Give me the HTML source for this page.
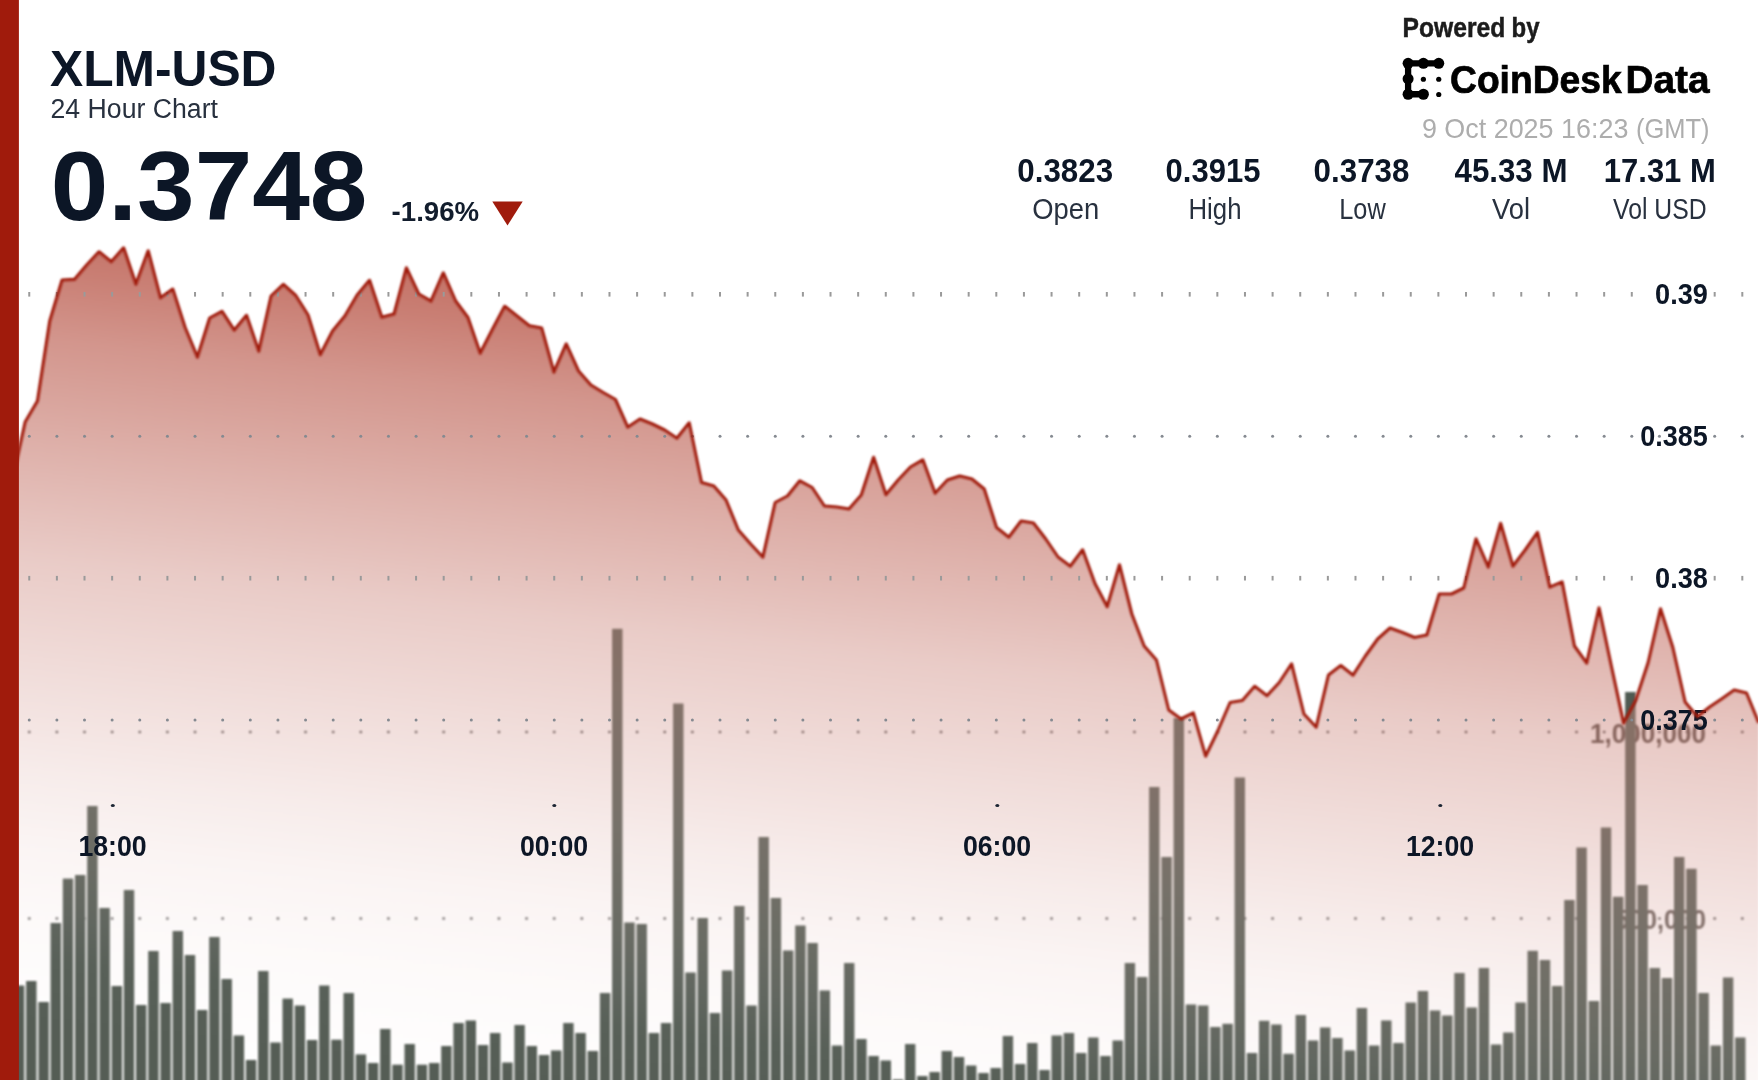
<!DOCTYPE html>
<html><head><meta charset="utf-8"><title>XLM-USD 24 Hour Chart</title>
<style>html,body{margin:0;padding:0;background:#fff;overflow:hidden}svg{display:block}</style></head>
<body>
<svg width="1758" height="1080" viewBox="0 0 1758 1080" font-family="Liberation Sans, sans-serif">
<defs>
<linearGradient id="ag" gradientUnits="userSpaceOnUse" x1="290" y1="250" x2="195.80" y2="1069.17">
<stop offset="0.0000" stop-color="#a52816" stop-opacity="0.66"/><stop offset="0.0602" stop-color="#a52816" stop-opacity="0.595"/><stop offset="0.1410" stop-color="#a52816" stop-opacity="0.49"/><stop offset="0.2771" stop-color="#a52816" stop-opacity="0.36"/><stop offset="0.4084" stop-color="#a52816" stop-opacity="0.24"/><stop offset="0.5434" stop-color="#a52816" stop-opacity="0.158"/><stop offset="0.6639" stop-color="#a52816" stop-opacity="0.088"/><stop offset="0.7470" stop-color="#a52816" stop-opacity="0.05"/><stop offset="0.8373" stop-color="#a52816" stop-opacity="0.025"/><stop offset="1.0000" stop-color="#a52816" stop-opacity="0.0"/>
</linearGradient>
<linearGradient id="bg" gradientUnits="userSpaceOnUse" x1="290" y1="600" x2="235.52" y2="1073.73">
<stop offset="0.0000" stop-color="rgb(134, 112, 102)"/><stop offset="0.1042" stop-color="rgb(132, 114, 105)"/><stop offset="0.3958" stop-color="rgb(118, 113, 105)"/><stop offset="0.6042" stop-color="rgb(106, 108, 100)"/><stop offset="0.7083" stop-color="rgb(98, 103, 96)"/><stop offset="0.8125" stop-color="rgb(88, 96, 88)"/><stop offset="0.9646" stop-color="rgb(85, 93, 85)"/><stop offset="1.0000" stop-color="rgb(85, 93, 85)"/>
</linearGradient>
<clipPath id="above"><path d="M12.9,478.0 L25.2,422.0 L37.5,401.0 L49.8,321.0 L62.1,280.0 L74.4,279.4 L86.7,265.0 L99.0,251.8 L111.3,261.8 L123.6,247.8 L135.9,284.2 L148.2,250.8 L160.5,297.8 L172.8,289.1 L185.1,327.5 L197.4,357.2 L209.7,318.0 L222.0,311.3 L234.2,330.2 L246.5,315.3 L258.8,351.2 L271.1,296.0 L283.4,284.3 L295.7,295.5 L308.0,315.0 L320.3,354.7 L332.6,331.0 L344.9,316.0 L357.2,295.0 L369.5,280.3 L381.8,317.2 L394.1,314.0 L406.4,267.8 L418.7,294.0 L431.0,301.2 L443.3,272.8 L455.6,301.0 L467.9,317.5 L480.2,353.2 L492.4,329.5 L504.7,306.3 L517.0,316.0 L529.3,325.8 L541.6,328.0 L553.9,372.2 L566.2,343.8 L578.5,371.0 L590.8,385.0 L603.1,392.5 L615.4,399.5 L627.7,427.2 L640.0,419.0 L652.3,424.0 L664.6,430.0 L676.9,438.2 L689.2,422.8 L701.5,482.5 L713.8,486.0 L726.0,500.0 L738.3,530.0 L750.6,544.0 L762.9,557.2 L775.2,502.5 L787.5,496.0 L799.8,480.8 L812.1,487.5 L824.4,506.0 L836.7,507.0 L849.0,509.0 L861.3,495.0 L873.6,457.3 L885.9,494.7 L898.2,480.0 L910.5,467.0 L922.8,459.8 L935.1,493.2 L947.4,480.0 L959.7,476.0 L971.9,479.0 L984.2,489.0 L996.5,527.5 L1008.8,537.2 L1021.1,521.0 L1033.4,523.0 L1045.7,539.0 L1058.0,557.0 L1070.3,566.2 L1082.6,549.8 L1094.9,583.5 L1107.2,606.7 L1119.5,564.8 L1131.8,614.0 L1144.1,646.0 L1156.4,660.0 L1168.7,710.0 L1181.0,719.0 L1193.3,712.8 L1205.6,756.2 L1217.8,731.0 L1230.1,702.5 L1242.4,700.5 L1254.7,686.3 L1267.0,695.7 L1279.3,682.5 L1291.6,663.8 L1303.9,714.0 L1316.2,727.2 L1328.5,675.0 L1340.8,665.5 L1353.1,675.2 L1365.4,656.0 L1377.7,639.0 L1390.0,628.0 L1402.3,632.5 L1414.6,637.5 L1426.9,635.0 L1439.2,594.0 L1451.5,594.0 L1463.8,588.0 L1476.0,538.8 L1488.3,567.2 L1500.6,523.3 L1512.9,566.2 L1525.2,550.0 L1537.5,532.3 L1549.8,587.2 L1562.1,581.8 L1574.4,646.0 L1586.7,663.2 L1599.0,607.8 L1611.3,666.0 L1623.6,723.2 L1635.9,700.0 L1648.2,662.5 L1660.5,608.8 L1672.8,647.5 L1685.1,702.0 L1697.4,716.7 L1709.6,707.0 L1721.9,698.7 L1734.2,690.0 L1746.5,693.0 L1758.8,723.0 L1758.8,0 L12.9,0 Z"/></clipPath>
<clipPath id="below"><path d="M12.9,478.0 L25.2,422.0 L37.5,401.0 L49.8,321.0 L62.1,280.0 L74.4,279.4 L86.7,265.0 L99.0,251.8 L111.3,261.8 L123.6,247.8 L135.9,284.2 L148.2,250.8 L160.5,297.8 L172.8,289.1 L185.1,327.5 L197.4,357.2 L209.7,318.0 L222.0,311.3 L234.2,330.2 L246.5,315.3 L258.8,351.2 L271.1,296.0 L283.4,284.3 L295.7,295.5 L308.0,315.0 L320.3,354.7 L332.6,331.0 L344.9,316.0 L357.2,295.0 L369.5,280.3 L381.8,317.2 L394.1,314.0 L406.4,267.8 L418.7,294.0 L431.0,301.2 L443.3,272.8 L455.6,301.0 L467.9,317.5 L480.2,353.2 L492.4,329.5 L504.7,306.3 L517.0,316.0 L529.3,325.8 L541.6,328.0 L553.9,372.2 L566.2,343.8 L578.5,371.0 L590.8,385.0 L603.1,392.5 L615.4,399.5 L627.7,427.2 L640.0,419.0 L652.3,424.0 L664.6,430.0 L676.9,438.2 L689.2,422.8 L701.5,482.5 L713.8,486.0 L726.0,500.0 L738.3,530.0 L750.6,544.0 L762.9,557.2 L775.2,502.5 L787.5,496.0 L799.8,480.8 L812.1,487.5 L824.4,506.0 L836.7,507.0 L849.0,509.0 L861.3,495.0 L873.6,457.3 L885.9,494.7 L898.2,480.0 L910.5,467.0 L922.8,459.8 L935.1,493.2 L947.4,480.0 L959.7,476.0 L971.9,479.0 L984.2,489.0 L996.5,527.5 L1008.8,537.2 L1021.1,521.0 L1033.4,523.0 L1045.7,539.0 L1058.0,557.0 L1070.3,566.2 L1082.6,549.8 L1094.9,583.5 L1107.2,606.7 L1119.5,564.8 L1131.8,614.0 L1144.1,646.0 L1156.4,660.0 L1168.7,710.0 L1181.0,719.0 L1193.3,712.8 L1205.6,756.2 L1217.8,731.0 L1230.1,702.5 L1242.4,700.5 L1254.7,686.3 L1267.0,695.7 L1279.3,682.5 L1291.6,663.8 L1303.9,714.0 L1316.2,727.2 L1328.5,675.0 L1340.8,665.5 L1353.1,675.2 L1365.4,656.0 L1377.7,639.0 L1390.0,628.0 L1402.3,632.5 L1414.6,637.5 L1426.9,635.0 L1439.2,594.0 L1451.5,594.0 L1463.8,588.0 L1476.0,538.8 L1488.3,567.2 L1500.6,523.3 L1512.9,566.2 L1525.2,550.0 L1537.5,532.3 L1549.8,587.2 L1562.1,581.8 L1574.4,646.0 L1586.7,663.2 L1599.0,607.8 L1611.3,666.0 L1623.6,723.2 L1635.9,700.0 L1648.2,662.5 L1660.5,608.8 L1672.8,647.5 L1685.1,702.0 L1697.4,716.7 L1709.6,707.0 L1721.9,698.7 L1734.2,690.0 L1746.5,693.0 L1758.8,723.0 L1758.8,1120 L12.9,1120 Z"/></clipPath>
<filter id="bl" color-interpolation-filters="sRGB" filterUnits="userSpaceOnUse" x="-40" y="-40" width="1840" height="1160"><feGaussianBlur stdDeviation="0.85"/></filter>
<filter id="tb" color-interpolation-filters="sRGB" filterUnits="userSpaceOnUse" x="-40" y="-40" width="1840" height="1160"><feGaussianBlur stdDeviation="0.65"/></filter>
</defs>
<g filter="url(#bl)">
<rect x="-40" y="-40" width="1840" height="1160" fill="#fff"/>
<g clip-path="url(#below)"><g fill="#6e6e6e"><circle cx="29.25" cy="732" r="1.35"/><circle cx="56.88" cy="732" r="1.35"/><circle cx="84.51" cy="732" r="1.35"/><circle cx="112.14" cy="732" r="1.35"/><circle cx="139.77" cy="732" r="1.35"/><circle cx="167.40" cy="732" r="1.35"/><circle cx="195.03" cy="732" r="1.35"/><circle cx="222.66" cy="732" r="1.35"/><circle cx="250.29" cy="732" r="1.35"/><circle cx="277.92" cy="732" r="1.35"/><circle cx="305.55" cy="732" r="1.35"/><circle cx="333.18" cy="732" r="1.35"/><circle cx="360.81" cy="732" r="1.35"/><circle cx="388.44" cy="732" r="1.35"/><circle cx="416.07" cy="732" r="1.35"/><circle cx="443.70" cy="732" r="1.35"/><circle cx="471.33" cy="732" r="1.35"/><circle cx="498.96" cy="732" r="1.35"/><circle cx="526.59" cy="732" r="1.35"/><circle cx="554.22" cy="732" r="1.35"/><circle cx="581.85" cy="732" r="1.35"/><circle cx="609.48" cy="732" r="1.35"/><circle cx="637.11" cy="732" r="1.35"/><circle cx="664.74" cy="732" r="1.35"/><circle cx="692.37" cy="732" r="1.35"/><circle cx="720.00" cy="732" r="1.35"/><circle cx="747.63" cy="732" r="1.35"/><circle cx="775.26" cy="732" r="1.35"/><circle cx="802.89" cy="732" r="1.35"/><circle cx="830.52" cy="732" r="1.35"/><circle cx="858.15" cy="732" r="1.35"/><circle cx="885.78" cy="732" r="1.35"/><circle cx="913.41" cy="732" r="1.35"/><circle cx="941.04" cy="732" r="1.35"/><circle cx="968.67" cy="732" r="1.35"/><circle cx="996.30" cy="732" r="1.35"/><circle cx="1023.93" cy="732" r="1.35"/><circle cx="1051.56" cy="732" r="1.35"/><circle cx="1079.19" cy="732" r="1.35"/><circle cx="1106.82" cy="732" r="1.35"/><circle cx="1134.45" cy="732" r="1.35"/><circle cx="1162.08" cy="732" r="1.35"/><circle cx="1189.71" cy="732" r="1.35"/><circle cx="1217.34" cy="732" r="1.35"/><circle cx="1244.97" cy="732" r="1.35"/><circle cx="1272.60" cy="732" r="1.35"/><circle cx="1300.23" cy="732" r="1.35"/><circle cx="1327.86" cy="732" r="1.35"/><circle cx="1355.49" cy="732" r="1.35"/><circle cx="1383.12" cy="732" r="1.35"/><circle cx="1410.75" cy="732" r="1.35"/><circle cx="1438.38" cy="732" r="1.35"/><circle cx="1466.01" cy="732" r="1.35"/><circle cx="1493.64" cy="732" r="1.35"/><circle cx="1521.27" cy="732" r="1.35"/><circle cx="1548.90" cy="732" r="1.35"/><circle cx="1576.53" cy="732" r="1.35"/><circle cx="1604.16" cy="732" r="1.35"/><circle cx="1631.79" cy="732" r="1.35"/><circle cx="1659.42" cy="732" r="1.35"/><circle cx="1687.05" cy="732" r="1.35"/><circle cx="1714.68" cy="732" r="1.35"/><circle cx="1742.31" cy="732" r="1.35"/></g></g>
<g fill="#6e6e6e"><circle cx="29.25" cy="918.5" r="1.35"/><circle cx="56.88" cy="918.5" r="1.35"/><circle cx="84.51" cy="918.5" r="1.35"/><circle cx="112.14" cy="918.5" r="1.35"/><circle cx="139.77" cy="918.5" r="1.35"/><circle cx="167.40" cy="918.5" r="1.35"/><circle cx="195.03" cy="918.5" r="1.35"/><circle cx="222.66" cy="918.5" r="1.35"/><circle cx="250.29" cy="918.5" r="1.35"/><circle cx="277.92" cy="918.5" r="1.35"/><circle cx="305.55" cy="918.5" r="1.35"/><circle cx="333.18" cy="918.5" r="1.35"/><circle cx="360.81" cy="918.5" r="1.35"/><circle cx="388.44" cy="918.5" r="1.35"/><circle cx="416.07" cy="918.5" r="1.35"/><circle cx="443.70" cy="918.5" r="1.35"/><circle cx="471.33" cy="918.5" r="1.35"/><circle cx="498.96" cy="918.5" r="1.35"/><circle cx="526.59" cy="918.5" r="1.35"/><circle cx="554.22" cy="918.5" r="1.35"/><circle cx="581.85" cy="918.5" r="1.35"/><circle cx="609.48" cy="918.5" r="1.35"/><circle cx="637.11" cy="918.5" r="1.35"/><circle cx="664.74" cy="918.5" r="1.35"/><circle cx="692.37" cy="918.5" r="1.35"/><circle cx="720.00" cy="918.5" r="1.35"/><circle cx="747.63" cy="918.5" r="1.35"/><circle cx="775.26" cy="918.5" r="1.35"/><circle cx="802.89" cy="918.5" r="1.35"/><circle cx="830.52" cy="918.5" r="1.35"/><circle cx="858.15" cy="918.5" r="1.35"/><circle cx="885.78" cy="918.5" r="1.35"/><circle cx="913.41" cy="918.5" r="1.35"/><circle cx="941.04" cy="918.5" r="1.35"/><circle cx="968.67" cy="918.5" r="1.35"/><circle cx="996.30" cy="918.5" r="1.35"/><circle cx="1023.93" cy="918.5" r="1.35"/><circle cx="1051.56" cy="918.5" r="1.35"/><circle cx="1079.19" cy="918.5" r="1.35"/><circle cx="1106.82" cy="918.5" r="1.35"/><circle cx="1134.45" cy="918.5" r="1.35"/><circle cx="1162.08" cy="918.5" r="1.35"/><circle cx="1189.71" cy="918.5" r="1.35"/><circle cx="1217.34" cy="918.5" r="1.35"/><circle cx="1244.97" cy="918.5" r="1.35"/><circle cx="1272.60" cy="918.5" r="1.35"/><circle cx="1300.23" cy="918.5" r="1.35"/><circle cx="1327.86" cy="918.5" r="1.35"/><circle cx="1355.49" cy="918.5" r="1.35"/><circle cx="1383.12" cy="918.5" r="1.35"/><circle cx="1410.75" cy="918.5" r="1.35"/><circle cx="1438.38" cy="918.5" r="1.35"/><circle cx="1466.01" cy="918.5" r="1.35"/><circle cx="1493.64" cy="918.5" r="1.35"/><circle cx="1521.27" cy="918.5" r="1.35"/><circle cx="1548.90" cy="918.5" r="1.35"/><circle cx="1576.53" cy="918.5" r="1.35"/><circle cx="1604.16" cy="918.5" r="1.35"/><circle cx="1631.79" cy="918.5" r="1.35"/><circle cx="1659.42" cy="918.5" r="1.35"/><circle cx="1687.05" cy="918.5" r="1.35"/><circle cx="1714.68" cy="918.5" r="1.35"/><circle cx="1742.31" cy="918.5" r="1.35"/></g>
<text x="1706" y="743" font-size="27" font-weight="bold" fill="#7d7874" text-anchor="end" textLength="116" lengthAdjust="spacingAndGlyphs" >1,000,000</text>
<text x="1706" y="928.5" font-size="27" font-weight="bold" fill="#7d7874" text-anchor="end" textLength="91" lengthAdjust="spacingAndGlyphs" >500,000</text>
<path d="M12.9,478.0 L25.2,422.0 L37.5,401.0 L49.8,321.0 L62.1,280.0 L74.4,279.4 L86.7,265.0 L99.0,251.8 L111.3,261.8 L123.6,247.8 L135.9,284.2 L148.2,250.8 L160.5,297.8 L172.8,289.1 L185.1,327.5 L197.4,357.2 L209.7,318.0 L222.0,311.3 L234.2,330.2 L246.5,315.3 L258.8,351.2 L271.1,296.0 L283.4,284.3 L295.7,295.5 L308.0,315.0 L320.3,354.7 L332.6,331.0 L344.9,316.0 L357.2,295.0 L369.5,280.3 L381.8,317.2 L394.1,314.0 L406.4,267.8 L418.7,294.0 L431.0,301.2 L443.3,272.8 L455.6,301.0 L467.9,317.5 L480.2,353.2 L492.4,329.5 L504.7,306.3 L517.0,316.0 L529.3,325.8 L541.6,328.0 L553.9,372.2 L566.2,343.8 L578.5,371.0 L590.8,385.0 L603.1,392.5 L615.4,399.5 L627.7,427.2 L640.0,419.0 L652.3,424.0 L664.6,430.0 L676.9,438.2 L689.2,422.8 L701.5,482.5 L713.8,486.0 L726.0,500.0 L738.3,530.0 L750.6,544.0 L762.9,557.2 L775.2,502.5 L787.5,496.0 L799.8,480.8 L812.1,487.5 L824.4,506.0 L836.7,507.0 L849.0,509.0 L861.3,495.0 L873.6,457.3 L885.9,494.7 L898.2,480.0 L910.5,467.0 L922.8,459.8 L935.1,493.2 L947.4,480.0 L959.7,476.0 L971.9,479.0 L984.2,489.0 L996.5,527.5 L1008.8,537.2 L1021.1,521.0 L1033.4,523.0 L1045.7,539.0 L1058.0,557.0 L1070.3,566.2 L1082.6,549.8 L1094.9,583.5 L1107.2,606.7 L1119.5,564.8 L1131.8,614.0 L1144.1,646.0 L1156.4,660.0 L1168.7,710.0 L1181.0,719.0 L1193.3,712.8 L1205.6,756.2 L1217.8,731.0 L1230.1,702.5 L1242.4,700.5 L1254.7,686.3 L1267.0,695.7 L1279.3,682.5 L1291.6,663.8 L1303.9,714.0 L1316.2,727.2 L1328.5,675.0 L1340.8,665.5 L1353.1,675.2 L1365.4,656.0 L1377.7,639.0 L1390.0,628.0 L1402.3,632.5 L1414.6,637.5 L1426.9,635.0 L1439.2,594.0 L1451.5,594.0 L1463.8,588.0 L1476.0,538.8 L1488.3,567.2 L1500.6,523.3 L1512.9,566.2 L1525.2,550.0 L1537.5,532.3 L1549.8,587.2 L1562.1,581.8 L1574.4,646.0 L1586.7,663.2 L1599.0,607.8 L1611.3,666.0 L1623.6,723.2 L1635.9,700.0 L1648.2,662.5 L1660.5,608.8 L1672.8,647.5 L1685.1,702.0 L1697.4,716.7 L1709.6,707.0 L1721.9,698.7 L1734.2,690.0 L1746.5,693.0 L1758.8,723.0 L1758.8,1120 L12.9,1120 Z" fill="url(#ag)"/>
<g fill="url(#bg)"><rect x="1.7" y="1000.0" width="10.4" height="120.0"/><rect x="13.9" y="985.5" width="10.4" height="134.5"/><rect x="26.1" y="981.0" width="10.4" height="139.0"/><rect x="38.4" y="1002.0" width="10.4" height="118.0"/><rect x="50.6" y="923.0" width="10.4" height="197.0"/><rect x="62.8" y="878.6" width="10.4" height="241.4"/><rect x="75.0" y="875.0" width="10.4" height="245.0"/><rect x="87.2" y="806.0" width="10.4" height="314.0"/><rect x="99.4" y="908.0" width="10.4" height="212.0"/><rect x="111.6" y="986.0" width="10.4" height="134.0"/><rect x="123.8" y="890.0" width="10.4" height="230.0"/><rect x="136.0" y="1005.0" width="10.4" height="115.0"/><rect x="148.2" y="951.0" width="10.4" height="169.0"/><rect x="160.4" y="1003.0" width="10.4" height="117.0"/><rect x="172.6" y="931.0" width="10.4" height="189.0"/><rect x="184.8" y="955.0" width="10.4" height="165.0"/><rect x="197.0" y="1010.0" width="10.4" height="110.0"/><rect x="209.2" y="937.0" width="10.4" height="183.0"/><rect x="221.5" y="979.0" width="10.4" height="141.0"/><rect x="233.7" y="1035.5" width="10.4" height="84.5"/><rect x="245.9" y="1060.0" width="10.4" height="60.0"/><rect x="258.1" y="971.0" width="10.4" height="149.0"/><rect x="270.3" y="1042.5" width="10.4" height="77.5"/><rect x="282.5" y="998.6" width="10.4" height="121.4"/><rect x="294.7" y="1005.5" width="10.4" height="114.5"/><rect x="306.9" y="1040.0" width="10.4" height="80.0"/><rect x="319.1" y="985.5" width="10.4" height="134.5"/><rect x="331.3" y="1039.7" width="10.4" height="80.3"/><rect x="343.5" y="993.0" width="10.4" height="127.0"/><rect x="355.7" y="1054.4" width="10.4" height="65.6"/><rect x="367.9" y="1063.0" width="10.4" height="57.0"/><rect x="380.1" y="1029.0" width="10.4" height="91.0"/><rect x="392.3" y="1064.7" width="10.4" height="55.3"/><rect x="404.5" y="1044.0" width="10.4" height="76.0"/><rect x="416.8" y="1064.7" width="10.4" height="55.3"/><rect x="429.0" y="1063.0" width="10.4" height="57.0"/><rect x="441.2" y="1046.0" width="10.4" height="74.0"/><rect x="453.4" y="1023.0" width="10.4" height="97.0"/><rect x="465.6" y="1020.5" width="10.4" height="99.5"/><rect x="477.8" y="1045.0" width="10.4" height="75.0"/><rect x="490.0" y="1033.0" width="10.4" height="87.0"/><rect x="502.2" y="1062.5" width="10.4" height="57.5"/><rect x="514.4" y="1025.0" width="10.4" height="95.0"/><rect x="526.6" y="1046.0" width="10.4" height="74.0"/><rect x="538.8" y="1055.0" width="10.4" height="65.0"/><rect x="551.0" y="1050.5" width="10.4" height="69.5"/><rect x="563.2" y="1023.0" width="10.4" height="97.0"/><rect x="575.4" y="1033.0" width="10.4" height="87.0"/><rect x="587.6" y="1051.0" width="10.4" height="69.0"/><rect x="599.9" y="993.0" width="10.4" height="127.0"/><rect x="612.1" y="628.8" width="10.4" height="491.2"/><rect x="624.3" y="922.5" width="10.4" height="197.5"/><rect x="636.5" y="924.0" width="10.4" height="196.0"/><rect x="648.7" y="1033.0" width="10.4" height="87.0"/><rect x="660.9" y="1023.0" width="10.4" height="97.0"/><rect x="673.1" y="703.5" width="10.4" height="416.5"/><rect x="685.3" y="972.5" width="10.4" height="147.5"/><rect x="697.5" y="918.0" width="10.4" height="202.0"/><rect x="709.7" y="1013.0" width="10.4" height="107.0"/><rect x="721.9" y="970.5" width="10.4" height="149.5"/><rect x="734.1" y="906.0" width="10.4" height="214.0"/><rect x="746.3" y="1005.5" width="10.4" height="114.5"/><rect x="758.5" y="837.0" width="10.4" height="283.0"/><rect x="770.7" y="898.0" width="10.4" height="222.0"/><rect x="783.0" y="950.5" width="10.4" height="169.5"/><rect x="795.2" y="925.5" width="10.4" height="194.5"/><rect x="807.4" y="943.0" width="10.4" height="177.0"/><rect x="819.6" y="990.5" width="10.4" height="129.5"/><rect x="831.8" y="1045.5" width="10.4" height="74.5"/><rect x="844.0" y="963.0" width="10.4" height="157.0"/><rect x="856.2" y="1039.0" width="10.4" height="81.0"/><rect x="868.4" y="1056.0" width="10.4" height="64.0"/><rect x="880.6" y="1060.5" width="10.4" height="59.5"/><rect x="892.8" y="1079.5" width="10.4" height="40.5"/><rect x="905.0" y="1044.0" width="10.4" height="76.0"/><rect x="917.2" y="1076.0" width="10.4" height="44.0"/><rect x="929.4" y="1072.0" width="10.4" height="48.0"/><rect x="941.6" y="1051.0" width="10.4" height="69.0"/><rect x="953.8" y="1057.0" width="10.4" height="63.0"/><rect x="966.0" y="1065.5" width="10.4" height="54.5"/><rect x="978.3" y="1073.0" width="10.4" height="47.0"/><rect x="990.5" y="1068.0" width="10.4" height="52.0"/><rect x="1002.7" y="1036.0" width="10.4" height="84.0"/><rect x="1014.9" y="1064.0" width="10.4" height="56.0"/><rect x="1027.1" y="1043.0" width="10.4" height="77.0"/><rect x="1039.3" y="1070.0" width="10.4" height="50.0"/><rect x="1051.5" y="1035.5" width="10.4" height="84.5"/><rect x="1063.7" y="1033.0" width="10.4" height="87.0"/><rect x="1075.9" y="1053.0" width="10.4" height="67.0"/><rect x="1088.1" y="1037.5" width="10.4" height="82.5"/><rect x="1100.3" y="1056.0" width="10.4" height="64.0"/><rect x="1112.5" y="1040.5" width="10.4" height="79.5"/><rect x="1124.7" y="963.0" width="10.4" height="157.0"/><rect x="1136.9" y="977.0" width="10.4" height="143.0"/><rect x="1149.1" y="787.0" width="10.4" height="333.0"/><rect x="1161.4" y="857.0" width="10.4" height="263.0"/><rect x="1173.6" y="718.0" width="10.4" height="402.0"/><rect x="1185.8" y="1004.5" width="10.4" height="115.5"/><rect x="1198.0" y="1005.5" width="10.4" height="114.5"/><rect x="1210.2" y="1027.0" width="10.4" height="93.0"/><rect x="1222.4" y="1023.8" width="10.4" height="96.2"/><rect x="1234.6" y="777.5" width="10.4" height="342.5"/><rect x="1246.8" y="1053.0" width="10.4" height="67.0"/><rect x="1259.0" y="1020.8" width="10.4" height="99.2"/><rect x="1271.2" y="1024.5" width="10.4" height="95.5"/><rect x="1283.4" y="1053.8" width="10.4" height="66.2"/><rect x="1295.6" y="1015.0" width="10.4" height="105.0"/><rect x="1307.8" y="1040.5" width="10.4" height="79.5"/><rect x="1320.0" y="1027.5" width="10.4" height="92.5"/><rect x="1332.2" y="1038.0" width="10.4" height="82.0"/><rect x="1344.5" y="1050.5" width="10.4" height="69.5"/><rect x="1356.7" y="1008.0" width="10.4" height="112.0"/><rect x="1368.9" y="1045.5" width="10.4" height="74.5"/><rect x="1381.1" y="1020.5" width="10.4" height="99.5"/><rect x="1393.3" y="1043.0" width="10.4" height="77.0"/><rect x="1405.5" y="1002.5" width="10.4" height="117.5"/><rect x="1417.7" y="991.0" width="10.4" height="129.0"/><rect x="1429.9" y="1010.5" width="10.4" height="109.5"/><rect x="1442.1" y="1015.5" width="10.4" height="104.5"/><rect x="1454.3" y="973.0" width="10.4" height="147.0"/><rect x="1466.5" y="1007.5" width="10.4" height="112.5"/><rect x="1478.7" y="968.0" width="10.4" height="152.0"/><rect x="1490.9" y="1044.5" width="10.4" height="75.5"/><rect x="1503.1" y="1032.5" width="10.4" height="87.5"/><rect x="1515.3" y="1002.5" width="10.4" height="117.5"/><rect x="1527.5" y="950.8" width="10.4" height="169.2"/><rect x="1539.8" y="960.0" width="10.4" height="160.0"/><rect x="1552.0" y="986.0" width="10.4" height="134.0"/><rect x="1564.2" y="900.0" width="10.4" height="220.0"/><rect x="1576.4" y="847.5" width="10.4" height="272.5"/><rect x="1588.6" y="1001.0" width="10.4" height="119.0"/><rect x="1600.8" y="827.5" width="10.4" height="292.5"/><rect x="1613.0" y="896.8" width="10.4" height="223.2"/><rect x="1625.2" y="692.0" width="10.4" height="428.0"/><rect x="1637.4" y="885.0" width="10.4" height="235.0"/><rect x="1649.6" y="968.0" width="10.4" height="152.0"/><rect x="1661.8" y="978.0" width="10.4" height="142.0"/><rect x="1674.0" y="857.0" width="10.4" height="263.0"/><rect x="1686.2" y="868.8" width="10.4" height="251.2"/><rect x="1698.4" y="993.0" width="10.4" height="127.0"/><rect x="1710.6" y="1045.5" width="10.4" height="74.5"/><rect x="1722.9" y="977.5" width="10.4" height="142.5"/><rect x="1735.1" y="1037.5" width="10.4" height="82.5"/></g>
<g fill="#4f5a52" clip-path="url(#above)"><rect x="1.7" y="1000.0" width="10.4" height="120.0"/><rect x="13.9" y="985.5" width="10.4" height="134.5"/><rect x="26.1" y="981.0" width="10.4" height="139.0"/><rect x="38.4" y="1002.0" width="10.4" height="118.0"/><rect x="50.6" y="923.0" width="10.4" height="197.0"/><rect x="62.8" y="878.6" width="10.4" height="241.4"/><rect x="75.0" y="875.0" width="10.4" height="245.0"/><rect x="87.2" y="806.0" width="10.4" height="314.0"/><rect x="99.4" y="908.0" width="10.4" height="212.0"/><rect x="111.6" y="986.0" width="10.4" height="134.0"/><rect x="123.8" y="890.0" width="10.4" height="230.0"/><rect x="136.0" y="1005.0" width="10.4" height="115.0"/><rect x="148.2" y="951.0" width="10.4" height="169.0"/><rect x="160.4" y="1003.0" width="10.4" height="117.0"/><rect x="172.6" y="931.0" width="10.4" height="189.0"/><rect x="184.8" y="955.0" width="10.4" height="165.0"/><rect x="197.0" y="1010.0" width="10.4" height="110.0"/><rect x="209.2" y="937.0" width="10.4" height="183.0"/><rect x="221.5" y="979.0" width="10.4" height="141.0"/><rect x="233.7" y="1035.5" width="10.4" height="84.5"/><rect x="245.9" y="1060.0" width="10.4" height="60.0"/><rect x="258.1" y="971.0" width="10.4" height="149.0"/><rect x="270.3" y="1042.5" width="10.4" height="77.5"/><rect x="282.5" y="998.6" width="10.4" height="121.4"/><rect x="294.7" y="1005.5" width="10.4" height="114.5"/><rect x="306.9" y="1040.0" width="10.4" height="80.0"/><rect x="319.1" y="985.5" width="10.4" height="134.5"/><rect x="331.3" y="1039.7" width="10.4" height="80.3"/><rect x="343.5" y="993.0" width="10.4" height="127.0"/><rect x="355.7" y="1054.4" width="10.4" height="65.6"/><rect x="367.9" y="1063.0" width="10.4" height="57.0"/><rect x="380.1" y="1029.0" width="10.4" height="91.0"/><rect x="392.3" y="1064.7" width="10.4" height="55.3"/><rect x="404.5" y="1044.0" width="10.4" height="76.0"/><rect x="416.8" y="1064.7" width="10.4" height="55.3"/><rect x="429.0" y="1063.0" width="10.4" height="57.0"/><rect x="441.2" y="1046.0" width="10.4" height="74.0"/><rect x="453.4" y="1023.0" width="10.4" height="97.0"/><rect x="465.6" y="1020.5" width="10.4" height="99.5"/><rect x="477.8" y="1045.0" width="10.4" height="75.0"/><rect x="490.0" y="1033.0" width="10.4" height="87.0"/><rect x="502.2" y="1062.5" width="10.4" height="57.5"/><rect x="514.4" y="1025.0" width="10.4" height="95.0"/><rect x="526.6" y="1046.0" width="10.4" height="74.0"/><rect x="538.8" y="1055.0" width="10.4" height="65.0"/><rect x="551.0" y="1050.5" width="10.4" height="69.5"/><rect x="563.2" y="1023.0" width="10.4" height="97.0"/><rect x="575.4" y="1033.0" width="10.4" height="87.0"/><rect x="587.6" y="1051.0" width="10.4" height="69.0"/><rect x="599.9" y="993.0" width="10.4" height="127.0"/><rect x="612.1" y="628.8" width="10.4" height="491.2"/><rect x="624.3" y="922.5" width="10.4" height="197.5"/><rect x="636.5" y="924.0" width="10.4" height="196.0"/><rect x="648.7" y="1033.0" width="10.4" height="87.0"/><rect x="660.9" y="1023.0" width="10.4" height="97.0"/><rect x="673.1" y="703.5" width="10.4" height="416.5"/><rect x="685.3" y="972.5" width="10.4" height="147.5"/><rect x="697.5" y="918.0" width="10.4" height="202.0"/><rect x="709.7" y="1013.0" width="10.4" height="107.0"/><rect x="721.9" y="970.5" width="10.4" height="149.5"/><rect x="734.1" y="906.0" width="10.4" height="214.0"/><rect x="746.3" y="1005.5" width="10.4" height="114.5"/><rect x="758.5" y="837.0" width="10.4" height="283.0"/><rect x="770.7" y="898.0" width="10.4" height="222.0"/><rect x="783.0" y="950.5" width="10.4" height="169.5"/><rect x="795.2" y="925.5" width="10.4" height="194.5"/><rect x="807.4" y="943.0" width="10.4" height="177.0"/><rect x="819.6" y="990.5" width="10.4" height="129.5"/><rect x="831.8" y="1045.5" width="10.4" height="74.5"/><rect x="844.0" y="963.0" width="10.4" height="157.0"/><rect x="856.2" y="1039.0" width="10.4" height="81.0"/><rect x="868.4" y="1056.0" width="10.4" height="64.0"/><rect x="880.6" y="1060.5" width="10.4" height="59.5"/><rect x="892.8" y="1079.5" width="10.4" height="40.5"/><rect x="905.0" y="1044.0" width="10.4" height="76.0"/><rect x="917.2" y="1076.0" width="10.4" height="44.0"/><rect x="929.4" y="1072.0" width="10.4" height="48.0"/><rect x="941.6" y="1051.0" width="10.4" height="69.0"/><rect x="953.8" y="1057.0" width="10.4" height="63.0"/><rect x="966.0" y="1065.5" width="10.4" height="54.5"/><rect x="978.3" y="1073.0" width="10.4" height="47.0"/><rect x="990.5" y="1068.0" width="10.4" height="52.0"/><rect x="1002.7" y="1036.0" width="10.4" height="84.0"/><rect x="1014.9" y="1064.0" width="10.4" height="56.0"/><rect x="1027.1" y="1043.0" width="10.4" height="77.0"/><rect x="1039.3" y="1070.0" width="10.4" height="50.0"/><rect x="1051.5" y="1035.5" width="10.4" height="84.5"/><rect x="1063.7" y="1033.0" width="10.4" height="87.0"/><rect x="1075.9" y="1053.0" width="10.4" height="67.0"/><rect x="1088.1" y="1037.5" width="10.4" height="82.5"/><rect x="1100.3" y="1056.0" width="10.4" height="64.0"/><rect x="1112.5" y="1040.5" width="10.4" height="79.5"/><rect x="1124.7" y="963.0" width="10.4" height="157.0"/><rect x="1136.9" y="977.0" width="10.4" height="143.0"/><rect x="1149.1" y="787.0" width="10.4" height="333.0"/><rect x="1161.4" y="857.0" width="10.4" height="263.0"/><rect x="1173.6" y="718.0" width="10.4" height="402.0"/><rect x="1185.8" y="1004.5" width="10.4" height="115.5"/><rect x="1198.0" y="1005.5" width="10.4" height="114.5"/><rect x="1210.2" y="1027.0" width="10.4" height="93.0"/><rect x="1222.4" y="1023.8" width="10.4" height="96.2"/><rect x="1234.6" y="777.5" width="10.4" height="342.5"/><rect x="1246.8" y="1053.0" width="10.4" height="67.0"/><rect x="1259.0" y="1020.8" width="10.4" height="99.2"/><rect x="1271.2" y="1024.5" width="10.4" height="95.5"/><rect x="1283.4" y="1053.8" width="10.4" height="66.2"/><rect x="1295.6" y="1015.0" width="10.4" height="105.0"/><rect x="1307.8" y="1040.5" width="10.4" height="79.5"/><rect x="1320.0" y="1027.5" width="10.4" height="92.5"/><rect x="1332.2" y="1038.0" width="10.4" height="82.0"/><rect x="1344.5" y="1050.5" width="10.4" height="69.5"/><rect x="1356.7" y="1008.0" width="10.4" height="112.0"/><rect x="1368.9" y="1045.5" width="10.4" height="74.5"/><rect x="1381.1" y="1020.5" width="10.4" height="99.5"/><rect x="1393.3" y="1043.0" width="10.4" height="77.0"/><rect x="1405.5" y="1002.5" width="10.4" height="117.5"/><rect x="1417.7" y="991.0" width="10.4" height="129.0"/><rect x="1429.9" y="1010.5" width="10.4" height="109.5"/><rect x="1442.1" y="1015.5" width="10.4" height="104.5"/><rect x="1454.3" y="973.0" width="10.4" height="147.0"/><rect x="1466.5" y="1007.5" width="10.4" height="112.5"/><rect x="1478.7" y="968.0" width="10.4" height="152.0"/><rect x="1490.9" y="1044.5" width="10.4" height="75.5"/><rect x="1503.1" y="1032.5" width="10.4" height="87.5"/><rect x="1515.3" y="1002.5" width="10.4" height="117.5"/><rect x="1527.5" y="950.8" width="10.4" height="169.2"/><rect x="1539.8" y="960.0" width="10.4" height="160.0"/><rect x="1552.0" y="986.0" width="10.4" height="134.0"/><rect x="1564.2" y="900.0" width="10.4" height="220.0"/><rect x="1576.4" y="847.5" width="10.4" height="272.5"/><rect x="1588.6" y="1001.0" width="10.4" height="119.0"/><rect x="1600.8" y="827.5" width="10.4" height="292.5"/><rect x="1613.0" y="896.8" width="10.4" height="223.2"/><rect x="1625.2" y="692.0" width="10.4" height="428.0"/><rect x="1637.4" y="885.0" width="10.4" height="235.0"/><rect x="1649.6" y="968.0" width="10.4" height="152.0"/><rect x="1661.8" y="978.0" width="10.4" height="142.0"/><rect x="1674.0" y="857.0" width="10.4" height="263.0"/><rect x="1686.2" y="868.8" width="10.4" height="251.2"/><rect x="1698.4" y="993.0" width="10.4" height="127.0"/><rect x="1710.6" y="1045.5" width="10.4" height="74.5"/><rect x="1722.9" y="977.5" width="10.4" height="142.5"/><rect x="1735.1" y="1037.5" width="10.4" height="82.5"/></g>
</g><g filter="url(#tb)">
<g fill="#9a9a9a"><rect x="28.25" y="292.00" width="2.0" height="4.6"/><rect x="55.88" y="292.00" width="2.0" height="4.6"/><rect x="83.51" y="292.00" width="2.0" height="4.6"/><rect x="111.14" y="292.00" width="2.0" height="4.6"/><rect x="138.77" y="292.00" width="2.0" height="4.6"/><rect x="166.40" y="292.00" width="2.0" height="4.6"/><rect x="194.03" y="292.00" width="2.0" height="4.6"/><rect x="221.66" y="292.00" width="2.0" height="4.6"/><rect x="249.29" y="292.00" width="2.0" height="4.6"/><rect x="276.92" y="292.00" width="2.0" height="4.6"/><rect x="304.55" y="292.00" width="2.0" height="4.6"/><rect x="332.18" y="292.00" width="2.0" height="4.6"/><rect x="359.81" y="292.00" width="2.0" height="4.6"/><rect x="387.44" y="292.00" width="2.0" height="4.6"/><rect x="415.07" y="292.00" width="2.0" height="4.6"/><rect x="442.70" y="292.00" width="2.0" height="4.6"/><rect x="470.33" y="292.00" width="2.0" height="4.6"/><rect x="497.96" y="292.00" width="2.0" height="4.6"/><rect x="525.59" y="292.00" width="2.0" height="4.6"/><rect x="553.22" y="292.00" width="2.0" height="4.6"/><rect x="580.85" y="292.00" width="2.0" height="4.6"/><rect x="608.48" y="292.00" width="2.0" height="4.6"/><rect x="636.11" y="292.00" width="2.0" height="4.6"/><rect x="663.74" y="292.00" width="2.0" height="4.6"/><rect x="691.37" y="292.00" width="2.0" height="4.6"/><rect x="719.00" y="292.00" width="2.0" height="4.6"/><rect x="746.63" y="292.00" width="2.0" height="4.6"/><rect x="774.26" y="292.00" width="2.0" height="4.6"/><rect x="801.89" y="292.00" width="2.0" height="4.6"/><rect x="829.52" y="292.00" width="2.0" height="4.6"/><rect x="857.15" y="292.00" width="2.0" height="4.6"/><rect x="884.78" y="292.00" width="2.0" height="4.6"/><rect x="912.41" y="292.00" width="2.0" height="4.6"/><rect x="940.04" y="292.00" width="2.0" height="4.6"/><rect x="967.67" y="292.00" width="2.0" height="4.6"/><rect x="995.30" y="292.00" width="2.0" height="4.6"/><rect x="1022.93" y="292.00" width="2.0" height="4.6"/><rect x="1050.56" y="292.00" width="2.0" height="4.6"/><rect x="1078.19" y="292.00" width="2.0" height="4.6"/><rect x="1105.82" y="292.00" width="2.0" height="4.6"/><rect x="1133.45" y="292.00" width="2.0" height="4.6"/><rect x="1161.08" y="292.00" width="2.0" height="4.6"/><rect x="1188.71" y="292.00" width="2.0" height="4.6"/><rect x="1216.34" y="292.00" width="2.0" height="4.6"/><rect x="1243.97" y="292.00" width="2.0" height="4.6"/><rect x="1271.60" y="292.00" width="2.0" height="4.6"/><rect x="1299.23" y="292.00" width="2.0" height="4.6"/><rect x="1326.86" y="292.00" width="2.0" height="4.6"/><rect x="1354.49" y="292.00" width="2.0" height="4.6"/><rect x="1382.12" y="292.00" width="2.0" height="4.6"/><rect x="1409.75" y="292.00" width="2.0" height="4.6"/><rect x="1437.38" y="292.00" width="2.0" height="4.6"/><rect x="1465.01" y="292.00" width="2.0" height="4.6"/><rect x="1492.64" y="292.00" width="2.0" height="4.6"/><rect x="1520.27" y="292.00" width="2.0" height="4.6"/><rect x="1547.90" y="292.00" width="2.0" height="4.6"/><rect x="1575.53" y="292.00" width="2.0" height="4.6"/><rect x="1603.16" y="292.00" width="2.0" height="4.6"/><rect x="1630.79" y="292.00" width="2.0" height="4.6"/><rect x="1658.42" y="292.00" width="2.0" height="4.6"/><rect x="1686.05" y="292.00" width="2.0" height="4.6"/><rect x="1713.68" y="292.00" width="2.0" height="4.6"/><rect x="1741.31" y="292.00" width="2.0" height="4.6"/></g>
<g fill="#9a9a9a"><rect x="28.25" y="575.90" width="2.0" height="4.6"/><rect x="55.88" y="575.90" width="2.0" height="4.6"/><rect x="83.51" y="575.90" width="2.0" height="4.6"/><rect x="111.14" y="575.90" width="2.0" height="4.6"/><rect x="138.77" y="575.90" width="2.0" height="4.6"/><rect x="166.40" y="575.90" width="2.0" height="4.6"/><rect x="194.03" y="575.90" width="2.0" height="4.6"/><rect x="221.66" y="575.90" width="2.0" height="4.6"/><rect x="249.29" y="575.90" width="2.0" height="4.6"/><rect x="276.92" y="575.90" width="2.0" height="4.6"/><rect x="304.55" y="575.90" width="2.0" height="4.6"/><rect x="332.18" y="575.90" width="2.0" height="4.6"/><rect x="359.81" y="575.90" width="2.0" height="4.6"/><rect x="387.44" y="575.90" width="2.0" height="4.6"/><rect x="415.07" y="575.90" width="2.0" height="4.6"/><rect x="442.70" y="575.90" width="2.0" height="4.6"/><rect x="470.33" y="575.90" width="2.0" height="4.6"/><rect x="497.96" y="575.90" width="2.0" height="4.6"/><rect x="525.59" y="575.90" width="2.0" height="4.6"/><rect x="553.22" y="575.90" width="2.0" height="4.6"/><rect x="580.85" y="575.90" width="2.0" height="4.6"/><rect x="608.48" y="575.90" width="2.0" height="4.6"/><rect x="636.11" y="575.90" width="2.0" height="4.6"/><rect x="663.74" y="575.90" width="2.0" height="4.6"/><rect x="691.37" y="575.90" width="2.0" height="4.6"/><rect x="719.00" y="575.90" width="2.0" height="4.6"/><rect x="746.63" y="575.90" width="2.0" height="4.6"/><rect x="774.26" y="575.90" width="2.0" height="4.6"/><rect x="801.89" y="575.90" width="2.0" height="4.6"/><rect x="829.52" y="575.90" width="2.0" height="4.6"/><rect x="857.15" y="575.90" width="2.0" height="4.6"/><rect x="884.78" y="575.90" width="2.0" height="4.6"/><rect x="912.41" y="575.90" width="2.0" height="4.6"/><rect x="940.04" y="575.90" width="2.0" height="4.6"/><rect x="967.67" y="575.90" width="2.0" height="4.6"/><rect x="995.30" y="575.90" width="2.0" height="4.6"/><rect x="1022.93" y="575.90" width="2.0" height="4.6"/><rect x="1050.56" y="575.90" width="2.0" height="4.6"/><rect x="1078.19" y="575.90" width="2.0" height="4.6"/><rect x="1105.82" y="575.90" width="2.0" height="4.6"/><rect x="1133.45" y="575.90" width="2.0" height="4.6"/><rect x="1161.08" y="575.90" width="2.0" height="4.6"/><rect x="1188.71" y="575.90" width="2.0" height="4.6"/><rect x="1216.34" y="575.90" width="2.0" height="4.6"/><rect x="1243.97" y="575.90" width="2.0" height="4.6"/><rect x="1271.60" y="575.90" width="2.0" height="4.6"/><rect x="1299.23" y="575.90" width="2.0" height="4.6"/><rect x="1326.86" y="575.90" width="2.0" height="4.6"/><rect x="1354.49" y="575.90" width="2.0" height="4.6"/><rect x="1382.12" y="575.90" width="2.0" height="4.6"/><rect x="1409.75" y="575.90" width="2.0" height="4.6"/><rect x="1437.38" y="575.90" width="2.0" height="4.6"/><rect x="1465.01" y="575.90" width="2.0" height="4.6"/><rect x="1492.64" y="575.90" width="2.0" height="4.6"/><rect x="1520.27" y="575.90" width="2.0" height="4.6"/><rect x="1547.90" y="575.90" width="2.0" height="4.6"/><rect x="1575.53" y="575.90" width="2.0" height="4.6"/><rect x="1603.16" y="575.90" width="2.0" height="4.6"/><rect x="1630.79" y="575.90" width="2.0" height="4.6"/><rect x="1658.42" y="575.90" width="2.0" height="4.6"/><rect x="1686.05" y="575.90" width="2.0" height="4.6"/><rect x="1713.68" y="575.90" width="2.0" height="4.6"/><rect x="1741.31" y="575.90" width="2.0" height="4.6"/></g>
<g fill="#858a91"><circle cx="29.25" cy="436.2" r="1.5"/><circle cx="56.88" cy="436.2" r="1.5"/><circle cx="84.51" cy="436.2" r="1.5"/><circle cx="112.14" cy="436.2" r="1.5"/><circle cx="139.77" cy="436.2" r="1.5"/><circle cx="167.40" cy="436.2" r="1.5"/><circle cx="195.03" cy="436.2" r="1.5"/><circle cx="222.66" cy="436.2" r="1.5"/><circle cx="250.29" cy="436.2" r="1.5"/><circle cx="277.92" cy="436.2" r="1.5"/><circle cx="305.55" cy="436.2" r="1.5"/><circle cx="333.18" cy="436.2" r="1.5"/><circle cx="360.81" cy="436.2" r="1.5"/><circle cx="388.44" cy="436.2" r="1.5"/><circle cx="416.07" cy="436.2" r="1.5"/><circle cx="443.70" cy="436.2" r="1.5"/><circle cx="471.33" cy="436.2" r="1.5"/><circle cx="498.96" cy="436.2" r="1.5"/><circle cx="526.59" cy="436.2" r="1.5"/><circle cx="554.22" cy="436.2" r="1.5"/><circle cx="581.85" cy="436.2" r="1.5"/><circle cx="609.48" cy="436.2" r="1.5"/><circle cx="637.11" cy="436.2" r="1.5"/><circle cx="664.74" cy="436.2" r="1.5"/><circle cx="692.37" cy="436.2" r="1.5"/><circle cx="720.00" cy="436.2" r="1.5"/><circle cx="747.63" cy="436.2" r="1.5"/><circle cx="775.26" cy="436.2" r="1.5"/><circle cx="802.89" cy="436.2" r="1.5"/><circle cx="830.52" cy="436.2" r="1.5"/><circle cx="858.15" cy="436.2" r="1.5"/><circle cx="885.78" cy="436.2" r="1.5"/><circle cx="913.41" cy="436.2" r="1.5"/><circle cx="941.04" cy="436.2" r="1.5"/><circle cx="968.67" cy="436.2" r="1.5"/><circle cx="996.30" cy="436.2" r="1.5"/><circle cx="1023.93" cy="436.2" r="1.5"/><circle cx="1051.56" cy="436.2" r="1.5"/><circle cx="1079.19" cy="436.2" r="1.5"/><circle cx="1106.82" cy="436.2" r="1.5"/><circle cx="1134.45" cy="436.2" r="1.5"/><circle cx="1162.08" cy="436.2" r="1.5"/><circle cx="1189.71" cy="436.2" r="1.5"/><circle cx="1217.34" cy="436.2" r="1.5"/><circle cx="1244.97" cy="436.2" r="1.5"/><circle cx="1272.60" cy="436.2" r="1.5"/><circle cx="1300.23" cy="436.2" r="1.5"/><circle cx="1327.86" cy="436.2" r="1.5"/><circle cx="1355.49" cy="436.2" r="1.5"/><circle cx="1383.12" cy="436.2" r="1.5"/><circle cx="1410.75" cy="436.2" r="1.5"/><circle cx="1438.38" cy="436.2" r="1.5"/><circle cx="1466.01" cy="436.2" r="1.5"/><circle cx="1493.64" cy="436.2" r="1.5"/><circle cx="1521.27" cy="436.2" r="1.5"/><circle cx="1548.90" cy="436.2" r="1.5"/><circle cx="1576.53" cy="436.2" r="1.5"/><circle cx="1604.16" cy="436.2" r="1.5"/><circle cx="1631.79" cy="436.2" r="1.5"/><circle cx="1659.42" cy="436.2" r="1.5"/><circle cx="1687.05" cy="436.2" r="1.5"/><circle cx="1714.68" cy="436.2" r="1.5"/><circle cx="1742.31" cy="436.2" r="1.5"/></g>
<g fill="#858a91"><circle cx="29.25" cy="720" r="1.5"/><circle cx="56.88" cy="720" r="1.5"/><circle cx="84.51" cy="720" r="1.5"/><circle cx="112.14" cy="720" r="1.5"/><circle cx="139.77" cy="720" r="1.5"/><circle cx="167.40" cy="720" r="1.5"/><circle cx="195.03" cy="720" r="1.5"/><circle cx="222.66" cy="720" r="1.5"/><circle cx="250.29" cy="720" r="1.5"/><circle cx="277.92" cy="720" r="1.5"/><circle cx="305.55" cy="720" r="1.5"/><circle cx="333.18" cy="720" r="1.5"/><circle cx="360.81" cy="720" r="1.5"/><circle cx="388.44" cy="720" r="1.5"/><circle cx="416.07" cy="720" r="1.5"/><circle cx="443.70" cy="720" r="1.5"/><circle cx="471.33" cy="720" r="1.5"/><circle cx="498.96" cy="720" r="1.5"/><circle cx="526.59" cy="720" r="1.5"/><circle cx="554.22" cy="720" r="1.5"/><circle cx="581.85" cy="720" r="1.5"/><circle cx="609.48" cy="720" r="1.5"/><circle cx="637.11" cy="720" r="1.5"/><circle cx="664.74" cy="720" r="1.5"/><circle cx="692.37" cy="720" r="1.5"/><circle cx="720.00" cy="720" r="1.5"/><circle cx="747.63" cy="720" r="1.5"/><circle cx="775.26" cy="720" r="1.5"/><circle cx="802.89" cy="720" r="1.5"/><circle cx="830.52" cy="720" r="1.5"/><circle cx="858.15" cy="720" r="1.5"/><circle cx="885.78" cy="720" r="1.5"/><circle cx="913.41" cy="720" r="1.5"/><circle cx="941.04" cy="720" r="1.5"/><circle cx="968.67" cy="720" r="1.5"/><circle cx="996.30" cy="720" r="1.5"/><circle cx="1023.93" cy="720" r="1.5"/><circle cx="1051.56" cy="720" r="1.5"/><circle cx="1079.19" cy="720" r="1.5"/><circle cx="1106.82" cy="720" r="1.5"/><circle cx="1134.45" cy="720" r="1.5"/><circle cx="1162.08" cy="720" r="1.5"/><circle cx="1189.71" cy="720" r="1.5"/><circle cx="1217.34" cy="720" r="1.5"/><circle cx="1244.97" cy="720" r="1.5"/><circle cx="1272.60" cy="720" r="1.5"/><circle cx="1300.23" cy="720" r="1.5"/><circle cx="1327.86" cy="720" r="1.5"/><circle cx="1355.49" cy="720" r="1.5"/><circle cx="1383.12" cy="720" r="1.5"/><circle cx="1410.75" cy="720" r="1.5"/><circle cx="1438.38" cy="720" r="1.5"/><circle cx="1466.01" cy="720" r="1.5"/><circle cx="1493.64" cy="720" r="1.5"/><circle cx="1521.27" cy="720" r="1.5"/><circle cx="1548.90" cy="720" r="1.5"/><circle cx="1576.53" cy="720" r="1.5"/><circle cx="1604.16" cy="720" r="1.5"/><circle cx="1631.79" cy="720" r="1.5"/><circle cx="1659.42" cy="720" r="1.5"/><circle cx="1687.05" cy="720" r="1.5"/><circle cx="1714.68" cy="720" r="1.5"/><circle cx="1742.31" cy="720" r="1.5"/></g>
<text x="1707.9" y="304.2" font-size="29.3" font-weight="bold" fill="#0c1626" text-anchor="end" textLength="52.8" lengthAdjust="spacingAndGlyphs" >0.39</text>
<text x="1707.9" y="445.7" font-size="29.3" font-weight="bold" fill="#0c1626" text-anchor="end" textLength="67.6" lengthAdjust="spacingAndGlyphs" >0.385</text>
<text x="1707.9" y="587.7" font-size="29.3" font-weight="bold" fill="#0c1626" text-anchor="end" textLength="52.8" lengthAdjust="spacingAndGlyphs" >0.38</text>
<text x="1707.9" y="729.7" font-size="29.3" font-weight="bold" fill="#0c1626" text-anchor="end" textLength="67.6" lengthAdjust="spacingAndGlyphs" >0.375</text>
</g><g filter="url(#bl)">
<path d="M12.9,478.0 L25.2,422.0 L37.5,401.0 L49.8,321.0 L62.1,280.0 L74.4,279.4 L86.7,265.0 L99.0,251.8 L111.3,261.8 L123.6,247.8 L135.9,284.2 L148.2,250.8 L160.5,297.8 L172.8,289.1 L185.1,327.5 L197.4,357.2 L209.7,318.0 L222.0,311.3 L234.2,330.2 L246.5,315.3 L258.8,351.2 L271.1,296.0 L283.4,284.3 L295.7,295.5 L308.0,315.0 L320.3,354.7 L332.6,331.0 L344.9,316.0 L357.2,295.0 L369.5,280.3 L381.8,317.2 L394.1,314.0 L406.4,267.8 L418.7,294.0 L431.0,301.2 L443.3,272.8 L455.6,301.0 L467.9,317.5 L480.2,353.2 L492.4,329.5 L504.7,306.3 L517.0,316.0 L529.3,325.8 L541.6,328.0 L553.9,372.2 L566.2,343.8 L578.5,371.0 L590.8,385.0 L603.1,392.5 L615.4,399.5 L627.7,427.2 L640.0,419.0 L652.3,424.0 L664.6,430.0 L676.9,438.2 L689.2,422.8 L701.5,482.5 L713.8,486.0 L726.0,500.0 L738.3,530.0 L750.6,544.0 L762.9,557.2 L775.2,502.5 L787.5,496.0 L799.8,480.8 L812.1,487.5 L824.4,506.0 L836.7,507.0 L849.0,509.0 L861.3,495.0 L873.6,457.3 L885.9,494.7 L898.2,480.0 L910.5,467.0 L922.8,459.8 L935.1,493.2 L947.4,480.0 L959.7,476.0 L971.9,479.0 L984.2,489.0 L996.5,527.5 L1008.8,537.2 L1021.1,521.0 L1033.4,523.0 L1045.7,539.0 L1058.0,557.0 L1070.3,566.2 L1082.6,549.8 L1094.9,583.5 L1107.2,606.7 L1119.5,564.8 L1131.8,614.0 L1144.1,646.0 L1156.4,660.0 L1168.7,710.0 L1181.0,719.0 L1193.3,712.8 L1205.6,756.2 L1217.8,731.0 L1230.1,702.5 L1242.4,700.5 L1254.7,686.3 L1267.0,695.7 L1279.3,682.5 L1291.6,663.8 L1303.9,714.0 L1316.2,727.2 L1328.5,675.0 L1340.8,665.5 L1353.1,675.2 L1365.4,656.0 L1377.7,639.0 L1390.0,628.0 L1402.3,632.5 L1414.6,637.5 L1426.9,635.0 L1439.2,594.0 L1451.5,594.0 L1463.8,588.0 L1476.0,538.8 L1488.3,567.2 L1500.6,523.3 L1512.9,566.2 L1525.2,550.0 L1537.5,532.3 L1549.8,587.2 L1562.1,581.8 L1574.4,646.0 L1586.7,663.2 L1599.0,607.8 L1611.3,666.0 L1623.6,723.2 L1635.9,700.0 L1648.2,662.5 L1660.5,608.8 L1672.8,647.5 L1685.1,702.0 L1697.4,716.7 L1709.6,707.0 L1721.9,698.7 L1734.2,690.0 L1746.5,693.0 L1758.8,723.0" fill="none" stroke="#a01b0c" stroke-width="3.1" stroke-linejoin="round"/>
</g><g filter="url(#tb)">
<text x="112.5" y="856" font-size="29.5" font-weight="bold" fill="#0c1626" text-anchor="middle" textLength="68.2" lengthAdjust="spacingAndGlyphs" >18:00</text>
<ellipse cx="112.8" cy="805.4" rx="2" ry="1.5" fill="#1c2533"/>
<text x="554" y="856" font-size="29.5" font-weight="bold" fill="#0c1626" text-anchor="middle" textLength="68.2" lengthAdjust="spacingAndGlyphs" >00:00</text>
<ellipse cx="554.3" cy="805.4" rx="2" ry="1.5" fill="#1c2533"/>
<text x="997" y="856" font-size="29.5" font-weight="bold" fill="#0c1626" text-anchor="middle" textLength="68.2" lengthAdjust="spacingAndGlyphs" >06:00</text>
<ellipse cx="997.3" cy="805.4" rx="2" ry="1.5" fill="#1c2533"/>
<text x="1440" y="856" font-size="29.5" font-weight="bold" fill="#0c1626" text-anchor="middle" textLength="68.2" lengthAdjust="spacingAndGlyphs" >12:00</text>
<ellipse cx="1440.3" cy="805.4" rx="2" ry="1.5" fill="#1c2533"/>
<rect x="-40" y="-40" width="58.9" height="1160" fill="#a01b0c"/>
<text x="50" y="85.6" font-size="49.5" font-weight="bold" fill="#0c1626" text-anchor="start" textLength="226.5" lengthAdjust="spacingAndGlyphs" >XLM-USD</text>
<text x="50.5" y="118.1" font-size="27" font-weight="normal" fill="#28313f" text-anchor="start" textLength="167.5" lengthAdjust="spacingAndGlyphs" >24 Hour Chart</text>
<text x="50.8" y="220.0" font-size="98" font-weight="bold" fill="#0c1626" text-anchor="start" textLength="316.5" lengthAdjust="spacingAndGlyphs" >0.3748</text>
<text x="391.6" y="220.8" font-size="28" font-weight="bold" fill="#121d2d" text-anchor="start" textLength="87.6" lengthAdjust="spacingAndGlyphs" >-1.96%</text>
<text x="1402.6" y="37.2" font-size="27.2" font-weight="bold" fill="#1c1c1c" text-anchor="start" textLength="102.6" lengthAdjust="spacingAndGlyphs" stroke="#1c1c1c" stroke-width="0.5">Powered</text>
<text x="1511.6" y="37.2" font-size="27.2" font-weight="bold" fill="#1c1c1c" text-anchor="start" textLength="28" lengthAdjust="spacingAndGlyphs" stroke="#1c1c1c" stroke-width="0.5">by</text>
<text x="1450" y="92.7" font-size="38.7" font-weight="bold" fill="#000" text-anchor="start" textLength="171.7" lengthAdjust="spacingAndGlyphs" stroke="#000" stroke-width="0.7">CoinDesk</text>
<text x="1625.5" y="92.7" font-size="38.7" font-weight="bold" fill="#000" text-anchor="start" textLength="84" lengthAdjust="spacingAndGlyphs" stroke="#000" stroke-width="0.7">Data</text>
<text x="1421.9" y="138.4" font-size="28" font-weight="normal" fill="#adadad" text-anchor="start" textLength="206.5" lengthAdjust="spacingAndGlyphs" >9 Oct 2025 16:23</text>
<text x="1636" y="138.4" font-size="28" font-weight="normal" fill="#adadad" text-anchor="start" textLength="73.6" lengthAdjust="spacingAndGlyphs" >(GMT)</text>
<path d="M492.3,201.6 L522.7,201.6 L507.5,225.4 Z" fill="#a01b0c"/>
<text x="1065.2" y="181.5" font-size="32.6" font-weight="bold" fill="#0c1626" text-anchor="middle" textLength="95.8" lengthAdjust="spacingAndGlyphs" >0.3823</text>
<text x="1065.7" y="218.8" font-size="29" font-weight="normal" fill="#28313f" text-anchor="middle" textLength="67" lengthAdjust="spacingAndGlyphs" >Open</text>
<text x="1213" y="181.5" font-size="32.6" font-weight="bold" fill="#0c1626" text-anchor="middle" textLength="94.8" lengthAdjust="spacingAndGlyphs" >0.3915</text>
<text x="1215.0" y="218.8" font-size="29" font-weight="normal" fill="#28313f" text-anchor="middle" textLength="53" lengthAdjust="spacingAndGlyphs" >High</text>
<text x="1361.5" y="181.5" font-size="32.6" font-weight="bold" fill="#0c1626" text-anchor="middle" textLength="95.8" lengthAdjust="spacingAndGlyphs" >0.3738</text>
<text x="1362.5" y="218.8" font-size="29" font-weight="normal" fill="#28313f" text-anchor="middle" textLength="46.5" lengthAdjust="spacingAndGlyphs" >Low</text>
<text x="1511" y="181.5" font-size="32.6" font-weight="bold" fill="#0c1626" text-anchor="middle" textLength="113" lengthAdjust="spacingAndGlyphs" >45.33 M</text>
<text x="1511" y="218.8" font-size="29" font-weight="normal" fill="#28313f" text-anchor="middle" textLength="38" lengthAdjust="spacingAndGlyphs" >Vol</text>
<text x="1659.8" y="181.5" font-size="32.6" font-weight="bold" fill="#0c1626" text-anchor="middle" textLength="112" lengthAdjust="spacingAndGlyphs" >17.31 M</text>
<text x="1659.8" y="218.8" font-size="29" font-weight="normal" fill="#28313f" text-anchor="middle" textLength="93.5" lengthAdjust="spacingAndGlyphs" >Vol USD</text>
<g fill="#000" stroke="#000" stroke-width="6.3" stroke-linecap="round">
<path d="M1408.1,63.3 H1438.75 M1408.1,63.3 V94.25 M1408.1,94.25 H1423.4" fill="none"/>
<g stroke="none"><circle cx="1408.1" cy="63.3" r="5.5"/><circle cx="1423.4" cy="63.3" r="5.5"/><circle cx="1438.75" cy="63.3" r="5.5"/>
<circle cx="1408.1" cy="78.8" r="5.5"/><circle cx="1408.1" cy="94.25" r="5.5"/><circle cx="1423.4" cy="94.25" r="5.5"/>
<circle cx="1423.4" cy="79.25" r="2.6"/><circle cx="1438.75" cy="79.25" r="2.6"/><circle cx="1438.75" cy="94.5" r="2.6"/></g></g>
</g></svg>
</body></html>
